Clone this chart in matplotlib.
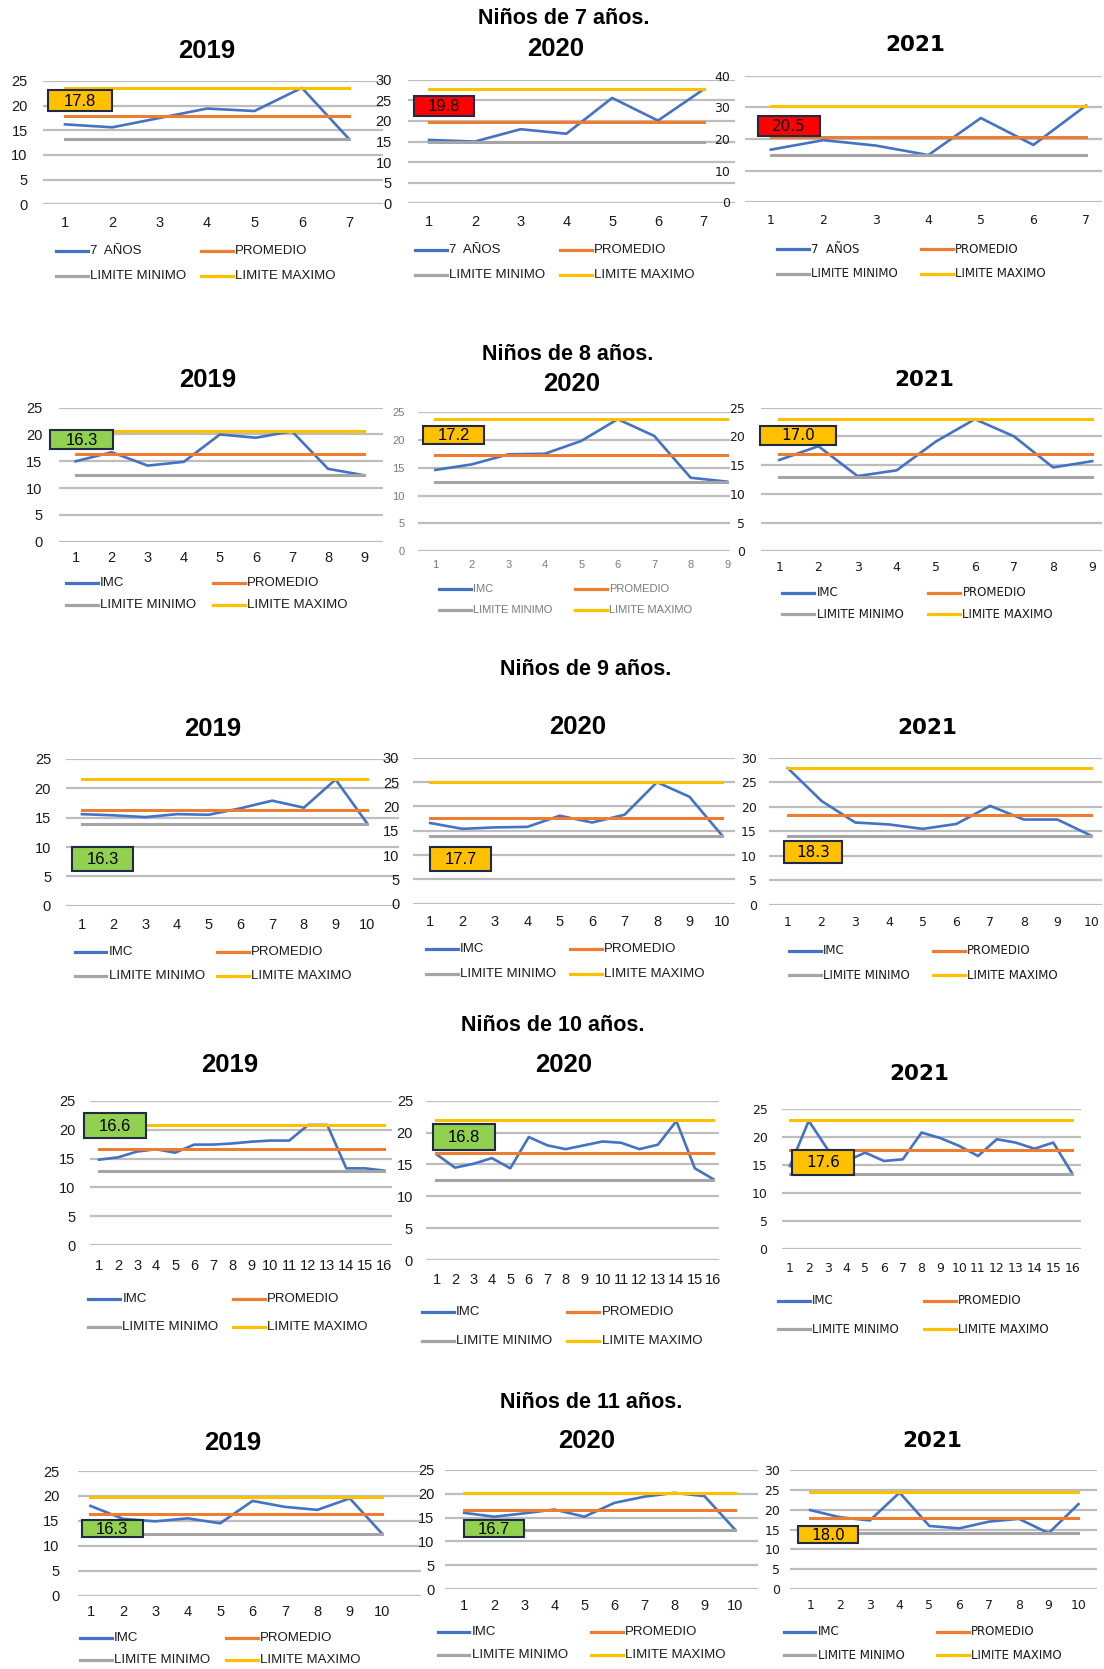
import matplotlib.pyplot as plt
from matplotlib.lines import Line2D
from matplotlib.patches import Rectangle

# IMC por alumno, promedio y limites para cada edad y año (2019, 2020, 2021)
years = ["2019", "2020", "2021"]
ages = [7, 8, 9, 10, 11]

imc_7_2019 = [16.2, 15.6, 17.5, 19.4, 18.9, 23.6, 13.2]
imc_7_2020 = [15.4, 15.0, 18.0, 16.9, 25.6, 20.1, 27.7]
imc_7_2021 = [16.6, 19.6, 17.9, 14.9, 26.6, 18.1, 30.5]
prom_7 = [17.8, 19.8, 20.5]
lim_min_7 = [13.2, 15.0, 14.9]
lim_max_7 = [23.6, 27.7, 30.5]

imc_8_2019 = [15.0, 16.7, 14.2, 14.9, 20.0, 19.4, 20.6, 13.6, 12.4]
imc_8_2020 = [14.6, 15.6, 17.4, 17.5, 19.8, 23.7, 20.7, 13.2, 12.5]
imc_8_2021 = [15.9, 18.3, 13.1, 14.1, 19.1, 23.0, 20.0, 14.6, 15.7]
prom_8 = [16.3, 17.2, 17.0]
lim_min_8 = [12.4, 12.4, 12.9]
lim_max_8 = [20.7, 23.7, 23.0]

imc_9_2019 = [15.6, 15.4, 15.1, 15.6, 15.5, 16.6, 17.9, 16.7, 21.5, 14.0]
imc_9_2020 = [16.6, 15.4, 15.7, 15.8, 18.1, 16.7, 18.3, 25.0, 22.0, 14.1]
imc_9_2021 = [27.9, 21.2, 16.8, 16.4, 15.5, 16.5, 20.2, 17.4, 17.4, 14.1]
prom_9 = [16.3, 17.7, 18.3]
lim_min_9 = [14.0, 14.0, 14.0]
lim_max_9 = [21.5, 25.0, 27.9]

imc_10_2019 = [14.8, 15.2, 16.2, 16.6, 16.0, 17.4, 17.4, 17.6, 17.9, 18.1, 18.1,
               20.8, 20.8, 13.3, 13.3, 12.9]
imc_10_2020 = [16.6, 14.5, 15.1, 16.0, 14.4, 19.3, 18.0, 17.4, 18.0, 18.6, 18.4,
               17.4, 18.1, 21.8, 14.4, 12.7]
imc_10_2021 = [14.8, 22.9, 17.8, 15.7, 17.2, 15.7, 16.0, 20.8, 19.8, 18.4, 16.6,
               19.6, 19.0, 17.9, 19.0, 13.5]
prom_10 = [16.6, 16.8, 17.6]
lim_min_10 = [12.9, 12.6, 13.4]
lim_max_10 = [20.8, 21.9, 23.0]

imc_11_2019 = [18.0, 15.4, 14.9, 15.5, 14.5, 19.0, 17.8, 17.2, 19.5, 12.4]
imc_11_2020 = [16.0, 15.2, 15.9, 16.7, 15.2, 18.1, 19.4, 20.2, 19.5, 12.6]
imc_11_2021 = [19.9, 18.1, 17.3, 24.3, 15.9, 15.3, 17.0, 17.7, 14.1, 21.4]
prom_11 = [16.3, 16.7, 18.0]
lim_min_11 = [12.4, 12.5, 14.1]
lim_max_11 = [19.7, 20.2, 24.4]

imc = {
    7: [imc_7_2019, imc_7_2020, imc_7_2021],
    8: [imc_8_2019, imc_8_2020, imc_8_2021],
    9: [imc_9_2019, imc_9_2020, imc_9_2021],
    10: [imc_10_2019, imc_10_2020, imc_10_2021],
    11: [imc_11_2019, imc_11_2020, imc_11_2021],
}
prom = {7: prom_7, 8: prom_8, 9: prom_9, 10: prom_10, 11: prom_11}
lim_min = {7: lim_min_7, 8: lim_min_8, 9: lim_min_9, 10: lim_min_10, 11: lim_min_11}
lim_max = {7: lim_max_7, 8: lim_max_8, 9: lim_max_9, 10: lim_max_10, 11: lim_max_11}
serie = {7: "7  AÑOS"}

# colores de Excel
C_IMC = "#4472C4"
C_PROM = "#ED7D31"
C_MIN = "#A5A5A5"
C_MAX = "#FFC000"
C_GRID = "#BDBDBD"

# posiciones en una rejilla de 1037 x 1568
W0, H0 = 1037, 1568
PX = 1104 / W0
PT = PX * 0.72  # unidades de rejilla -> puntos

# gL, gR, yTop, y0, x1, xn, ymax, ystep, labR, xtY, title, box, box color, legend, style
layout = {
    7: [
        (40, 360, 76, 192, 61, 328, 25, 5, 26, 209, (194, 48), (45, 85, 105, 104), "#FFC000", (53, 189, 236, 259), "a"),
        (383, 690, 75, 191, 403, 661, 30, 5, 368, 208, (522, 46), (389, 90, 445, 109), "#FF0000", (390, 526, 235, 258), "a"),
        (700, 1035, 71, 190, 724, 1020, 40, 10, 686, 207, (860, 42), (712, 109, 770, 128), "#FF0000", (730, 865, 234, 257), "b"),
    ],
    8: [
        (55, 360, 383, 509, 71, 342, 25, 5, 40, 524, (195, 357), (47, 404, 106, 422), "#92D050", (62, 200, 548, 568), "a"),
        (393, 686, 387, 518, 409, 683, 25, 5, 380, 532, (537, 361), (397, 400, 455, 417), "#FFC000", (412, 540, 553, 573), "c"),
        (715, 1035, 383, 518, 732, 1026, 25, 5, 700, 533, (868, 357), (714, 400, 785, 418), "#FFC000", (735, 872, 557, 577), "b"),
    ],
    9: [
        (62, 375, 713, 851, 77, 345, 25, 5, 48, 868, (200, 685), (68, 796, 125, 818), "#92D050", (70, 204, 894, 917), "a"),
        (388, 690, 712, 849, 404, 678, 30, 5, 375, 866, (543, 683), (404, 796, 461, 818), "#FFC000", (400, 535, 892, 915), "a"),
        (722, 1035, 712, 850, 740, 1025, 30, 5, 711, 867, (871, 684), (736, 790, 791, 811), "#FFC000", (741, 876, 893, 916), "b"),
    ],
    10: [
        (85, 368, 1034, 1170, 93, 361, 25, 5, 71, 1189, (216, 1001), (79, 1046, 137, 1069), "#92D050", (83, 219, 1220, 1247), "a"),
        (400, 675, 1034, 1184, 410, 670, 25, 5, 388, 1202, (529, 1001), (407, 1056, 465, 1080), "#92D050", (396, 533, 1233, 1260), "a"),
        (735, 1015, 1042, 1173, 742, 1007, 25, 5, 721, 1192, (863, 1009), (744, 1080, 802, 1104), "#FFC000", (731, 868, 1222, 1249), "b"),
    ],
    11: [
        (73, 395, 1382, 1499, 85, 359, 25, 5, 56, 1514, (219, 1356), (77, 1428, 134, 1444), "#92D050", (75, 212, 1539, 1560), "a"),
        (418, 712, 1381, 1493, 436, 690, 25, 5, 408, 1508, (551, 1354), (436, 1428, 492, 1444), "#92D050", (411, 555, 1533, 1555), "a"),
        (742, 1030, 1381, 1493, 761, 1013, 30, 5, 733, 1508, (876, 1354), (750, 1434, 806, 1450), "#FFC000", (736, 880, 1533, 1555), "b"),
    ],
}
section_pos = {7: (530, 17), 8: (533, 333), 9: (550, 629), 10: (519, 963), 11: (555, 1318)}

styles = {
    "a": dict(font="Liberation Sans", tick=10.5, tcolor="#1a1a1a", leg=9.5, lcolor="#1a1a1a",
              tfont="Liberation Sans", tsize=18.5, box=12),
    "b": dict(font="DejaVu Sans", tick=9, tcolor="#1a1a1a", leg=8.5, lcolor="#1a1a1a",
              tfont="DejaVu Sans", tsize=15.5, box=11),
    "c": dict(font="Liberation Sans", tick=8, tcolor="#7a7a7a", leg=8, lcolor="#7a7a7a",
              tfont="Liberation Sans", tsize=18.5, box=12),
}

fig = plt.figure(figsize=(11.04, 16.69), dpi=100)

charts = []
for age in ages:
    for k, year in enumerate(years):
        (gL, gR, yT, y0, x1, xn, ymax, ystep, labR, xtY,
         tpos, box, bcol, leg, st) = layout[age][k]
        s = styles[st]
        vals = imc[age][k]
        n = len(vals)
        xs = list(range(1, n + 1))

        ax = fig.add_axes([gL / W0, 1 - y0 / H0, (gR - gL) / W0, (y0 - yT) / H0])
        step = (xn - x1) / (n - 1)
        ax.set_xlim(1 - (x1 - gL) / step, n + (gR - xn) / step)
        ax.set_ylim(0, ymax)
        ax.set_yticks(range(0, ymax + 1, ystep))
        ax.set_xticks(xs)
        ax.yaxis.grid(True, color=C_GRID, lw=1.6)
        ax.set_axisbelow(True)
        for sp in ax.spines.values():
            sp.set_visible(False)
        ax.tick_params(axis="y", length=0, pad=(gL - labR) * PT,
                       labelsize=s["tick"], labelcolor=s["tcolor"])
        ax.tick_params(axis="x", length=0, pad=(xtY - y0 - 6) * PT,
                       labelsize=s["tick"], labelcolor=s["tcolor"])
        for lab in ax.get_xticklabels() + ax.get_yticklabels():
            lab.set_family(s["font"])
        ax.patch.set_alpha(0)

        ax.plot(xs, vals, color=C_IMC, lw=1.9, zorder=3)
        ax.plot(xs, [prom[age][k]] * n, color=C_PROM, lw=2.2, zorder=4)
        ax.plot(xs, [lim_min[age][k]] * n, color=C_MIN, lw=2.2, zorder=5)
        ax.plot(xs, [lim_max[age][k]] * n, color=C_MAX, lw=2.2, zorder=6)
        charts.append((age, k, year, tpos, box, bcol, leg, s))

# capa superior para titulos, leyendas y cuadros del promedio
over = fig.add_axes([0, 0, 1, 1])
over.set_xlim(0, W0)
over.set_ylim(H0, 0)
over.axis("off")

for age, (sx, sy) in section_pos.items():
    over.text(sx, sy, f"Niños de {age} años.", ha="center", va="center",
              fontsize=15.5, fontweight="bold", family="Liberation Sans")

for age, k, year, tpos, box, bcol, leg, s in charts:
    over.text(tpos[0], tpos[1], year, ha="center", va="center", fontsize=s["tsize"],
              fontweight="bold", family=s["tfont"])

    bx0, by0, bx1, by1 = box
    over.add_patch(Rectangle((bx0, by0), bx1 - bx0, by1 - by0, facecolor=bcol,
                             edgecolor="#1f2a44", lw=1.5, zorder=10))
    over.text((bx0 + bx1) / 2, (by0 + by1) / 2 + 0.5, f"{prom[age][k]:.1f}",
              ha="center", va="center", fontsize=s["box"], family=s["font"], zorder=11)

    lx1, lx2, ly1, ly2 = leg
    entries = [(lx1, ly1, C_IMC, serie.get(age, "IMC")),
               (lx2, ly1, C_PROM, "PROMEDIO"),
               (lx1, ly2, C_MIN, "LIMITE MINIMO"),
               (lx2, ly2, C_MAX, "LIMITE MAXIMO")]
    for lx, ly, col, txt in entries:
        over.add_line(Line2D([lx, lx + 30], [ly, ly], color=col, lw=2.3))
        over.text(lx + 32, ly, txt, ha="left", va="center", fontsize=s["leg"],
                  family=s["font"], color=s["lcolor"])

fig.savefig("out.png", dpi=100)
